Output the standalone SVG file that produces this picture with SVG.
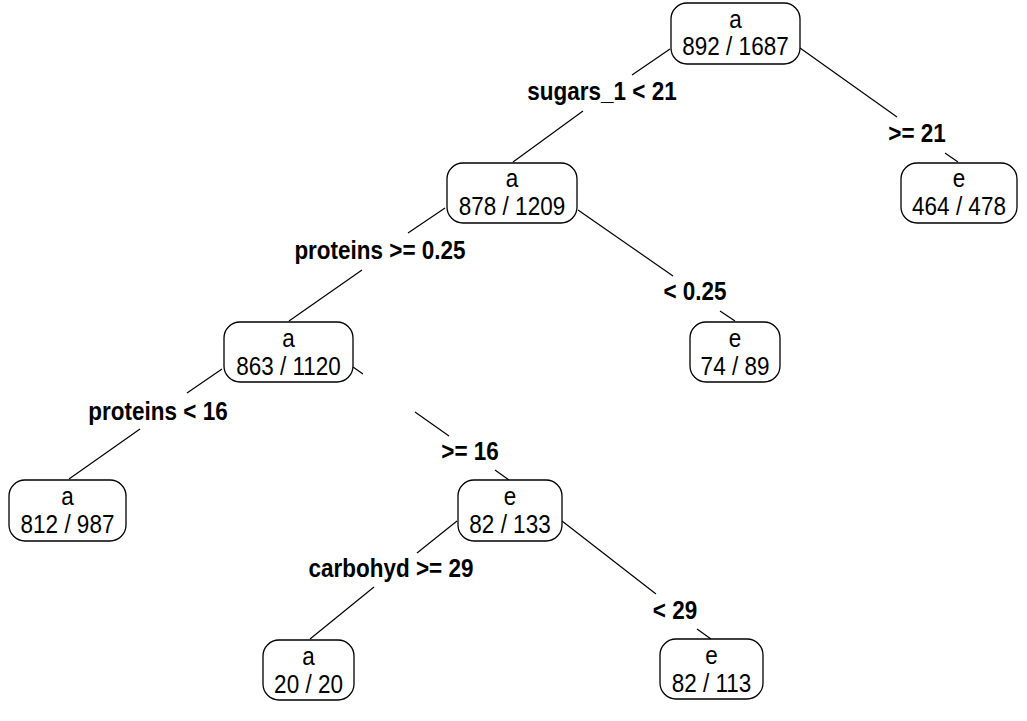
<svg xmlns="http://www.w3.org/2000/svg" width="1027" height="721" viewBox="0 0 1027 721">
<style>
.box{fill:#fff;stroke:#000;stroke-width:1.3}
.t{font-family:"Liberation Sans",Arial,sans-serif;font-size:22.5px;text-anchor:middle;fill:#000}
.lb{font-family:"Liberation Sans",Arial,sans-serif;font-size:22.5px;font-weight:bold;text-anchor:middle;fill:#000}
.e{stroke:#000;stroke-width:1.2;fill:none}
</style>
<rect width="1027" height="721" fill="#fff"/>
<g id="connectors">
<path class="e" d="M670,49L632,75M583,111L513,162"/>
<path class="e" d="M800,48L897,117M945,153L958,162"/>
<path class="e" d="M445,208L408,233M362,270L289,321"/>
<path class="e" d="M578,210L673,276M720,311L735,321"/>
<path class="e" d="M222,369L187,393M140,429L69,479"/>
<path class="e" d="M353,367L363,374M415,412L449,436M495,470L509,480"/>
<path class="e" d="M457,521L417,553M374,587L310,639"/>
<path class="e" d="M562,521L656,594M697,629L711,639"/>
<text class="lb" transform="translate(602,100) scale(1,1.12)">sugars_1 &lt; 21</text>
<text class="lb" transform="translate(917,142) scale(1,1.12)">&gt;= 21</text>
<text class="lb" transform="translate(380,259) scale(1,1.12)">proteins &gt;= 0.25</text>
<text class="lb" transform="translate(695,300) scale(1,1.12)">&lt; 0.25</text>
<text class="lb" transform="translate(158,420) scale(1,1.12)">proteins &lt; 16</text>
<text class="lb" transform="translate(470,460) scale(1,1.12)">&gt;= 16</text>
<text class="lb" transform="translate(391,577) scale(1,1.12)">carbohyd &gt;= 29</text>
<text class="lb" transform="translate(675,619) scale(1,1.12)">&lt; 29</text>
</g>
<g id="n1"><rect class="box" x="671" y="3" width="129" height="61" rx="16"/><text class="t" transform="translate(735.5,28) scale(1,1.12)">a</text><text class="t" transform="translate(735.5,55) scale(1,1.12)">892 / 1687</text></g>
<g id="n2"><rect class="box" x="447" y="163" width="130" height="60" rx="16"/><text class="t" transform="translate(512,187) scale(1,1.12)">a</text><text class="t" transform="translate(512,215) scale(1,1.12)">878 / 1209</text></g>
<g id="n3"><rect class="box" x="901" y="163" width="116" height="60" rx="16"/><text class="t" transform="translate(959,187) scale(1,1.12)">e</text><text class="t" transform="translate(959,215) scale(1,1.12)">464 / 478</text></g>
<g id="n4"><rect class="box" x="224" y="322" width="129" height="60" rx="16"/><text class="t" transform="translate(288.5,347) scale(1,1.12)">a</text><text class="t" transform="translate(288.5,375) scale(1,1.12)">863 / 1120</text></g>
<g id="n5"><rect class="box" x="690" y="322" width="90" height="60" rx="16"/><text class="t" transform="translate(735,347) scale(1,1.12)">e</text><text class="t" transform="translate(735,375) scale(1,1.12)">74 / 89</text></g>
<g id="n6"><rect class="box" x="9" y="480" width="117" height="61" rx="16"/><text class="t" transform="translate(67.5,505) scale(1,1.12)">a</text><text class="t" transform="translate(67.5,533) scale(1,1.12)">812 / 987</text></g>
<g id="n7"><rect class="box" x="458" y="480" width="104" height="61" rx="16"/><text class="t" transform="translate(510,505) scale(1,1.12)">e</text><text class="t" transform="translate(510,533) scale(1,1.12)">82 / 133</text></g>
<g id="n8"><rect class="box" x="263" y="640" width="91" height="60" rx="16"/><text class="t" transform="translate(308.5,665) scale(1,1.12)">a</text><text class="t" transform="translate(308.5,693) scale(1,1.12)">20 / 20</text></g>
<g id="n9"><rect class="box" x="660" y="639" width="103" height="60" rx="16"/><text class="t" transform="translate(711.5,664) scale(1,1.12)">e</text><text class="t" transform="translate(711.5,692) scale(1,1.12)">82 / 113</text></g>
</svg>
